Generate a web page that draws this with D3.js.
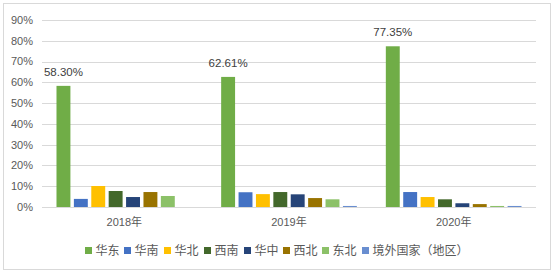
<!DOCTYPE html>
<meta charset="utf-8">
<style>
    body { margin: 0; background: #fff; }
    svg text { font-family: "Liberation Sans", "Noto Sans CJK SC", sans-serif; }
</style>
<svg width="556" height="273"></svg>
<script src="https://cdn.jsdelivr.net/npm/d3@7/dist/d3.min.js"></script>
<script>
    var years = ["2018年", "2019年", "2020年"];
    var regions = ["华东", "华南", "华北", "西南", "华中", "西北", "东北", "境外国家（地区）"];
    var colors = ["#70ad47", "#4472c4", "#ffc000", "#43682b", "#264478", "#997300", "#8cc168", "#698ed0"];
    // one array per year, in the order of regions (percent)
    var v2018 = [58.30, 3.9, 10.1, 7.7, 4.8, 7.2, 5.3, 0];
    var v2019 = [62.61, 7.1, 6.2, 7.2, 6.1, 4.3, 3.7, 0.5];
    var v2020 = [77.35, 7.2, 4.8, 3.7, 1.8, 1.4, 0.5, 0.5];
    var yTicks = [0, 10, 20, 30, 40, 50, 60, 70, 80, 90];

    var values = [v2018, v2019, v2020];

    var svg = d3.select("svg"),
        margin = {top: 20, left: 42, bottom: 66, right: 20},
        width = +svg.attr("width") - margin.left - margin.right,
        height = +svg.attr("height") - margin.top - margin.bottom;

    // outer frame
    svg.append("rect")
        .attr("x", 3.5).attr("y", 3.5)
        .attr("width", 547).attr("height", 266)
        .attr("fill", "none").attr("stroke", "#d9d9d9");

    var x0 = d3.scaleBand()
        .domain(years)
        .range([0, width])
        .paddingInner(0.176)
        .paddingOuter(0.088);

    var x1 = d3.scaleBand()
        .domain(regions)
        .range([0, x0.bandwidth()])
        .paddingInner(0.2)
        .paddingOuter(0);

    var y = d3.scaleLinear()
        .domain([0, 90])
        .range([height, 0]);

    var g = svg.append("g")
        .attr("transform", "translate(" + margin.left + "," + margin.top + ")");

    // grid
    g.append("g")
        .selectAll("line")
        .data(yTicks)
        .enter().append("line")
        .attr("x1", 0).attr("x2", width)
        .attr("y1", d => Math.round(y(d)) + 0.5)
        .attr("y2", d => Math.round(y(d)) + 0.5)
        .attr("stroke", "#d9d9d9");

    // y labels
    g.append("g")
        .selectAll("text")
        .data(yTicks)
        .enter().append("text")
        .attr("x", -9)
        .attr("y", d => y(d))
        .attr("dy", "0.35em")
        .attr("text-anchor", "end")
        .attr("font-size", 11)
        .attr("fill", "#595959")
        .text(d => d + "%");

    // bars
    var groups = g.selectAll(".year")
        .data(years)
        .enter().append("g")
        .attr("class", "year")
        .attr("transform", d => "translate(" + x0(d) + ",0)");

    groups.selectAll("rect")
        .data((d, i) => values[i].map((v, j) => ({region: regions[j], value: v, idx: j})))
        .enter().append("rect")
        .attr("x", d => x1(d.region))
        .attr("width", x1.bandwidth())
        .attr("y", d => y(d.value))
        .attr("height", d => height - y(d.value))
        .attr("fill", d => colors[d.idx]);

    // value labels on the first series
    groups.append("text")
        .attr("x", x1(regions[0]) + x1.bandwidth() / 2)
        .attr("y", (d, i) => y(values[i][0]) - 10)
        .attr("text-anchor", "middle")
        .attr("font-size", 11.5)
        .attr("fill", "#404040")
        .text((d, i) => values[i][0].toFixed(2) + "%");

    // category labels
    g.append("g")
        .selectAll("text")
        .data(years)
        .enter().append("text")
        .attr("x", d => x0(d) + x0.bandwidth() / 2)
        .attr("y", height + 19)
        .attr("text-anchor", "middle")
        .attr("font-size", 11)
        .attr("fill", "#595959")
        .text(d => d);

    // legend
    var legendX = [85, 124, 164, 204, 244, 283, 322, 362];
    var legend = svg.append("g")
        .selectAll("g")
        .data(regions)
        .enter().append("g")
        .attr("transform", (d, i) => "translate(" + legendX[i] + ",247)");

    legend.append("rect")
        .attr("width", 7).attr("height", 7)
        .attr("fill", (d, i) => colors[i]);

    legend.append("text")
        .attr("x", 10.5)
        .attr("y", 3.5)
        .attr("dy", "0.35em")
        .attr("font-size", 12)
        .attr("fill", "#595959")
        .style("font-family", "'Noto Sans CJK SC', sans-serif")
        .text(d => d);
</script>
